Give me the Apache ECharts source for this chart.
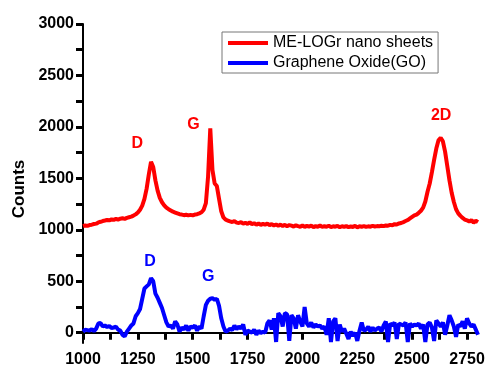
<!DOCTYPE html>
<html>
<head>
<meta charset="utf-8">
<script src="https://cdn.jsdelivr.net/npm/echarts@6/dist/echarts.min.js"></script>
<style>
  html, body { margin: 0; padding: 0; background: #fff; }
  #main { width: 488px; height: 370px; }
</style>
</head>
<body>
<div id="main"></div>
<script>
// Raman shift (cm-1), shared by both spectra
var shift = [
  1000, 1010, 1020, 1030, 1040, 1050, 1060, 1070, 1080, 1090,
  1100, 1110, 1120, 1130, 1140, 1150, 1160, 1170, 1180, 1190,
  1200, 1210, 1220, 1230, 1240, 1250, 1260, 1270, 1280, 1290,
  1300, 1310, 1320, 1330, 1340, 1350, 1360, 1370, 1380, 1390,
  1400, 1410, 1420, 1430, 1440, 1450, 1460, 1470, 1480, 1490,
  1500, 1510, 1520, 1530, 1540, 1550, 1560, 1570, 1580, 1590,
  1600, 1610, 1620, 1630, 1640, 1650, 1660, 1670, 1680, 1690,
  1700, 1710, 1720, 1730, 1740, 1750, 1760, 1770, 1780, 1790,
  1800, 1810, 1820, 1830, 1840, 1850, 1860, 1870, 1880, 1890,
  1900, 1910, 1920, 1930, 1940, 1950, 1960, 1970, 1980, 1990,
  2000, 2010, 2020, 2030, 2040, 2050, 2060, 2070, 2080, 2090,
  2100, 2110, 2120, 2130, 2140, 2150, 2160, 2170, 2180, 2190,
  2200, 2210, 2220, 2230, 2240, 2250, 2260, 2270, 2280, 2290,
  2300, 2310, 2320, 2330, 2340, 2350, 2360, 2370, 2380, 2390,
  2400, 2410, 2420, 2430, 2440, 2450, 2460, 2470, 2480, 2490,
  2500, 2510, 2520, 2530, 2540, 2550, 2560, 2570, 2580, 2590,
  2600, 2610, 2620, 2630, 2640, 2650, 2660, 2670, 2680, 2690,
  2700, 2710, 2720, 2730, 2740, 2750, 2760, 2770, 2780, 2790,
  2800
]

// ME-LOGr nano sheets
var meLogr = [
  1035, 1042, 1038, 1046, 1050, 1056, 1060, 1072, 1078, 1085,
  1090, 1096, 1092, 1101, 1097, 1106, 1100, 1108, 1112, 1106,
  1116, 1122, 1128, 1138, 1150, 1168, 1195, 1235, 1300, 1400,
  1540, 1660, 1610, 1480, 1380, 1310, 1268, 1238, 1215, 1200,
  1188, 1176, 1168, 1160, 1152, 1148, 1142, 1146, 1140, 1145,
  1140, 1148, 1152, 1160, 1170, 1195, 1260, 1520, 1985, 1580,
  1450, 1425, 1300, 1180, 1120, 1098, 1090, 1082, 1076, 1085,
  1070, 1066, 1075, 1060, 1068, 1058, 1072, 1055, 1064, 1050,
  1062, 1048, 1058, 1050, 1060, 1045, 1055, 1042, 1052, 1040,
  1050, 1038, 1048, 1035, 1046, 1040, 1032, 1044, 1036, 1030,
  1042, 1028, 1038, 1032, 1040, 1026, 1036, 1030, 1042, 1028,
  1035, 1030, 1040, 1026, 1034, 1030, 1038, 1025, 1035, 1028,
  1036, 1026, 1032, 1028, 1038, 1024, 1034, 1030, 1036, 1028,
  1034, 1030, 1038, 1032, 1036, 1034, 1040, 1036, 1042, 1040,
  1048, 1044, 1055, 1052, 1062, 1066, 1075, 1085, 1095, 1110,
  1125, 1140, 1148, 1165, 1185, 1215, 1275, 1370, 1450, 1560,
  1680, 1790, 1870, 1895, 1860, 1760, 1620, 1480, 1360, 1270,
  1200, 1160, 1135, 1115, 1100, 1092, 1080, 1095, 1070, 1088,
  1075
]

// Graphene Oxide (GO)
var grapheneOxide = [
  10, 30, 25, 20, 35, 15, 40, 90, 95, 60,
  70, 55, 65, 45, 50, 60, 30, 20, -20, -35,
  10, 40, 70, 90, 160, 190, 230, 330, 430, 450,
  470, 530, 500, 380, 340, 290, 240, 170, 100, 60,
  70, 40, 110, 80, 10, 50, 30, 70, 20, 60,
  50, 70, 20, 60, 40, 160, 270, 310, 330, 335,
  320, 330, 260, 140, 60, 10, 20, 40, 25, 70,
  35, 60, 40, 80, -20, 20, 10, 0, 30, -20,
  20, -5, 10, 0, 90, 120, 30, 140, -90, 190,
  160, 60, 190, 180, -80, 170, 140, 40, 170, 110,
  60, 250, 90, 60, 100, 50, 80, 60, 70, 40,
  60, -20, 140, -90, 110, 140, -80, 80, 10, 40,
  -10, -60, 10, -30, 0, -80, 20, 100, 20, 30,
  60, 10, 50, 20, 40, 50, 10, 70, 110, -90,
  90, 70, 100, -60, 90, 80, 70, 100, -90, 90,
  60, 80, 70, 90, 40, 80, -90, 80, 100, 50,
  -80, 120, 90, 60, 100, -20, 70, 170, 120, 60,
  -40, 80, 60, 110, 40, 140, 90, 60, 80, 30,
  -20
]

var xTicks = [1000, 1125, 1250, 1375, 1500, 1625, 1750, 1875, 2000, 2125, 2250, 2375, 2500, 2625, 2750]
var xLabels = [1000, 1250, 1500, 1750, 2000, 2250, 2500, 2750]
var yTicks = [0, 250, 500, 750, 1000, 1250, 1500, 1750, 2000, 2250, 2500, 2750, 3000]
var yLabels = [0, 500, 1000, 1500, 2000, 2500, 3000]

// peak names, anchored in data coordinates
var redPeaks = [['D', 1247, 1841], ['G', 1503, 2025], ['2D', 2632, 2112]]
var bluePeaks = [['D', 1306, 688], ['G', 1571, 543]]

function pairs (ys) {
  return shift.map(function (x, i) { return [x, ys[i]] })
}
function peakMarks (list) {
  return list.map(function (p) { return { name: p[0], coord: [p[1], p[2]] } })
}

var chart = echarts.init(document.getElementById('main'))

var fontFamily = 'Liberation Sans, Arial, sans-serif'
var axisFont = { color: '#000', fontFamily: fontFamily, fontWeight: 'bold', fontSize: 16 }
var plain = function (v) { return String(v) }
var tickStyle = { show: true, length: 7, lineStyle: { color: '#000', width: 3 } }

var opt = {
  animation: false,
  grid: { left: 83, right: 10, top: 24, bottom: 27 },
  // y axis title, drawn as rotated text
  graphic: [{
    type: 'text',
    x: 19,
    y: 189,
    rotation: Math.PI / 2,
    style: { text: 'Counts', fill: '#000', font: 'bold 17px Liberation Sans, Arial, sans-serif', align: 'center', verticalAlign: 'middle' }
  }],
  legend: {
    orient: 'vertical',
    left: 222,
    top: 32,
    padding: [3, 5, 2, 6],
    itemGap: 4,
    itemWidth: 40,
    itemHeight: 4,
    icon: 'rect',
    borderColor: '#777',
    borderWidth: 1,
    textStyle: { color: '#000', fontFamily: fontFamily, fontSize: 16 },
    data: ['ME-LOGr nano sheets', 'Graphene Oxide(GO)']
  },
  xAxis: {
    type: 'value',
    min: 1000,
    max: 2800,
    axisLine: { show: true, lineStyle: { color: '#000', width: 2 } },
    axisTick: Object.assign({ customValues: xTicks }, tickStyle),
    axisLabel: Object.assign({ margin: 9, customValues: xLabels, formatter: plain }, axisFont),
    splitLine: { show: false }
  },
  yAxis: {
    type: 'value',
    min: -100,
    max: 3000,
    axisLine: { show: true, lineStyle: { color: '#000', width: 2 } },
    axisTick: Object.assign({ customValues: yTicks }, tickStyle),
    axisLabel: Object.assign({ margin: 9, customValues: yLabels, formatter: plain }, axisFont),
    splitLine: { show: false }
  },
  series: [{
    name: 'ME-LOGr nano sheets',
    type: 'line',
    data: pairs(meLogr),
    showSymbol: false,
    symbol: 'none',
    color: '#ff0000',
    lineStyle: { color: '#ff0000', width: 4 },
    markPoint: {
      symbol: 'circle',
      symbolSize: 0,
      label: { show: true, position: 'inside', formatter: '{b}', color: '#ff0000', fontFamily: fontFamily, fontWeight: 'bold', fontSize: 16 },
      data: peakMarks(redPeaks)
    }
  }, {
    name: 'Graphene Oxide(GO)',
    type: 'line',
    data: pairs(grapheneOxide),
    showSymbol: false,
    symbol: 'none',
    color: '#0000ff',
    lineStyle: { color: '#0000ff', width: 4 },
    markPoint: {
      symbol: 'circle',
      symbolSize: 0,
      label: { show: true, position: 'inside', formatter: '{b}', color: '#0000ff', fontFamily: fontFamily, fontWeight: 'bold', fontSize: 16 },
      data: peakMarks(bluePeaks)
    }
  }]
}

chart.setOption(opt)
</script>
</body>
</html>
